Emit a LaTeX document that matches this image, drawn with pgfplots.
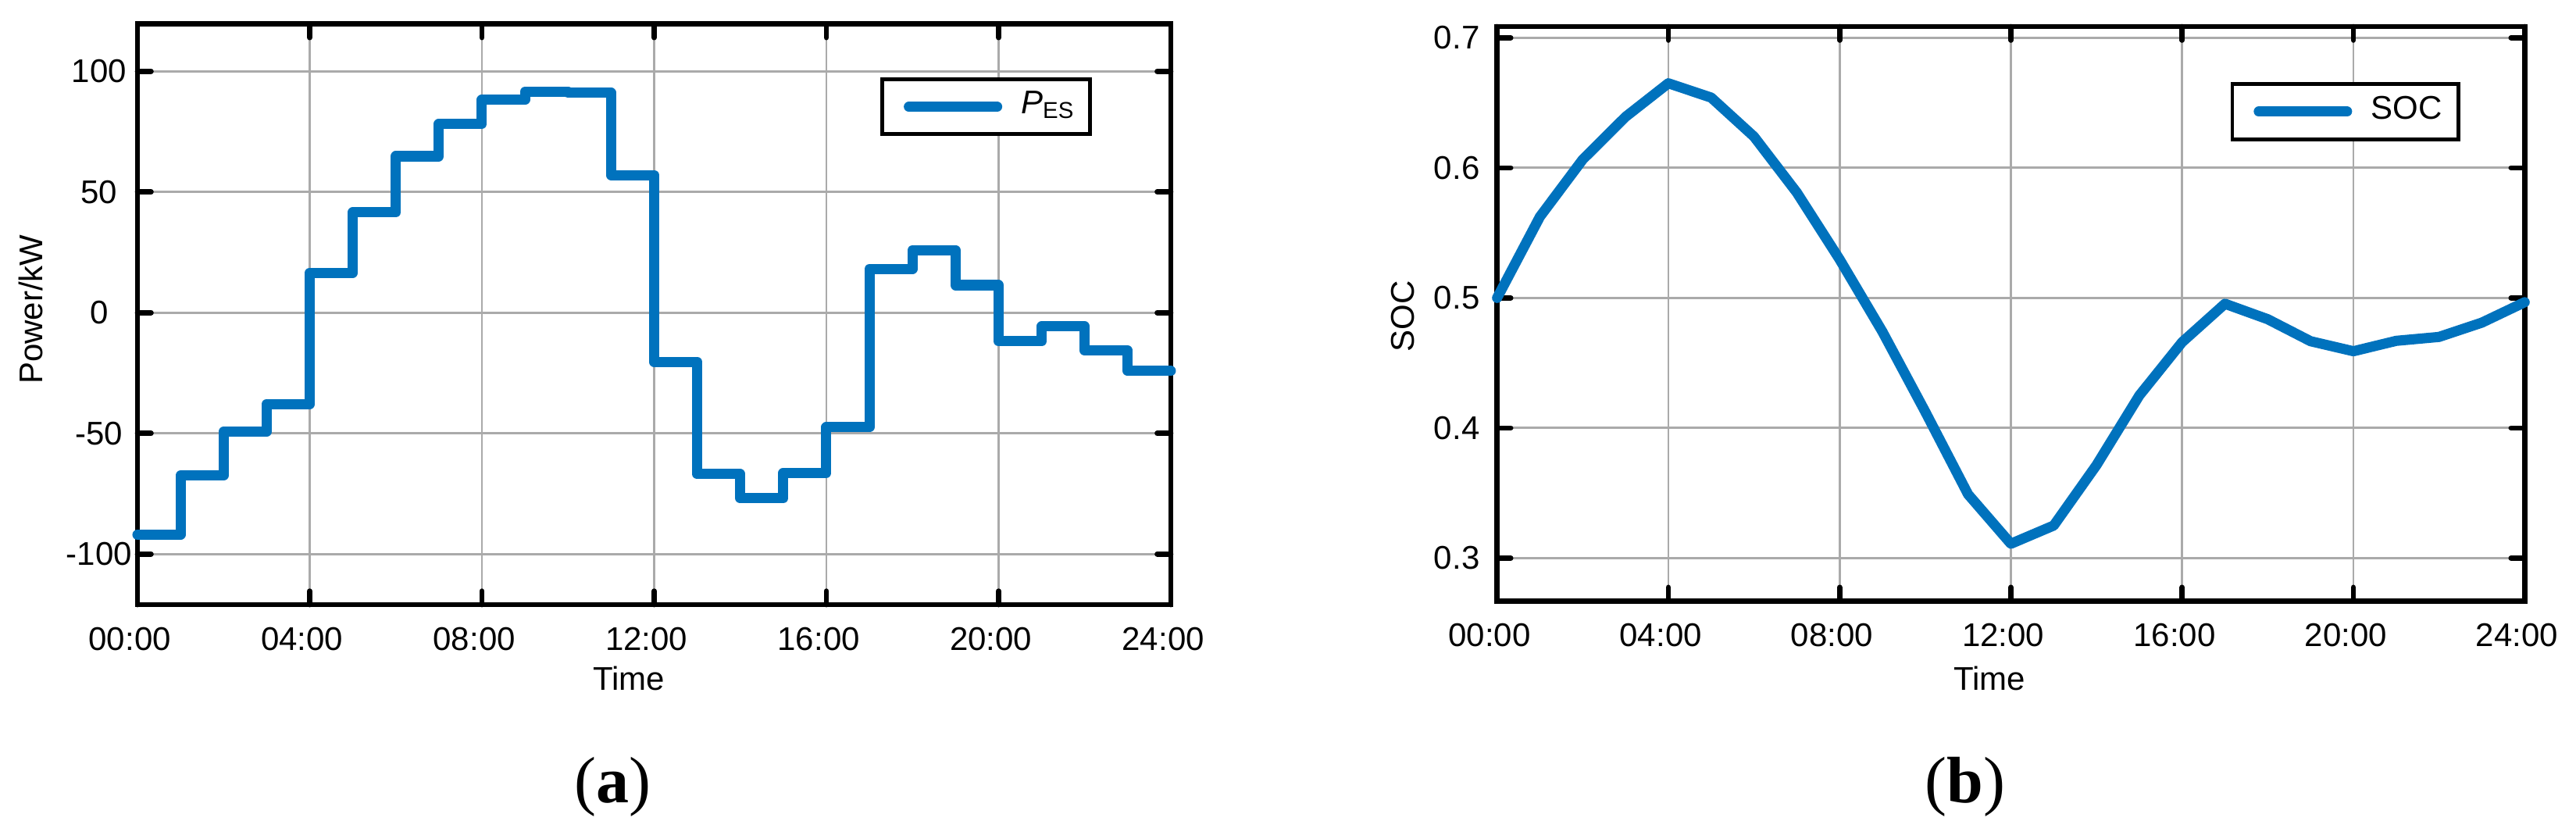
\documentclass[border=0pt]{standalone}
\usepackage{fontspec}
\setmainfont{Liberation Sans}
\newfontfamily\seriffont{Liberation Serif}
\usepackage{pgfplots}
\pgfplotsset{compat=1.18}
\definecolor{mblue}{RGB}{0,114,189}
\definecolor{gridgray}{RGB}{170,170,170}
\pgfplotsset{
 mystyle/.style={
  scale only axis,
  xmin=0, xmax=24,
  xtick={0,4,...,24},
  xticklabels={00:00,04:00,08:00,12:00,16:00,20:00,24:00},
  grid=major,
  major grid style={line width=0.4pt, draw=gridgray},
  axis line style={line width=0.95pt, black},
  tick style={line width=0.95pt, black, line cap=round},
  major tick length=2.5pt,
  tick align=inside,
  xticklabel style={font=\fontsize{6}{7}\selectfont, inner sep=0pt, anchor=north, yshift=-3.9pt, xshift=-1.4pt},
  yticklabel style={font=\fontsize{6}{7}\selectfont, inner sep=0pt, anchor=center},
  label style={font=\fontsize{6}{7}\selectfont, inner sep=0pt},
  xlabel={Time},
  clip=false,
  legend cell align=left,
  legend style={draw=black, line width=0.65pt, inner xsep=3pt, inner ysep=2.2pt, column sep=2.5pt, font=\fontsize{6}{7}\selectfont, nodes={inner sep=0pt}},
  legend image code/.code={\path (0pt,0pt) (18pt,0pt); \draw[#1,line cap=round] (0.93pt,0pt) -- (17.07pt,0pt);},
 }
}
\begin{document}
\begin{tikzpicture}
\path[use as bounding box] (0,0) rectangle (471.14pt,153.29pt);
\begin{axis}[mystyle,
  at={(25.14pt,42.71pt)}, anchor=south west,
  width=189pt, height=106.2pt,
  ymin=-121, ymax=119.6,
  ytick={-100,-50,0,50,100},
  yticklabels={-100,-50,0,50,100},
  yticklabel style={xshift=-7pt},
  ylabel={Power/kW},
  ylabel style={at={(axis description cs:-0.1028,0.5085)}, anchor=center},
  xlabel style={at={(axis description cs:0.4754,-0.1049)}, anchor=north},
  legend style={at={(axis description cs:0.9234,0.9077)}, anchor=north east},
]
\addplot[const plot, color=mblue, line width=1.86pt, line join=round, line cap=round] coordinates {
(0,-92.0) (1,-67.5) (2,-49.3) (3,-37.9) (4,16.5) (5,41.5) (6,64.8) (7,78.2)
(8,88.2) (9,91.5) (10,91.1) (11,57.0) (12,-20.4) (13,-66.9) (14,-76.9) (15,-66.4)
(16,-47.5) (17,18.1) (18,25.9) (19,11.4) (20,-11.9) (21,-5.7) (22,-15.7) (23,-24.2) (24,-24.2)
};
\addlegendentry{\textit{P}\raisebox{-0.8pt}{\fontsize{4.2}{5}\selectfont ES}}
\end{axis}
\begin{axis}[mystyle,
  at={(273.81pt,43.39pt)}, anchor=south west,
  width=187.94pt, height=105.04pt,
  ymin=0.267, ymax=0.7086,
  ytick={0.3,0.4,0.5,0.6,0.7},
  yticklabels={0.3,0.4,0.5,0.6,0.7},
  yticklabel style={xshift=-7.36pt},
  ylabel={SOC},
  ylabel style={at={(axis description cs:-0.0917,0.4954)}, anchor=center},
  xlabel style={at={(axis description cs:0.4791,-0.1125)}, anchor=north},
  legend style={at={(axis description cs:0.9372,0.903)}, anchor=north east},
]
\addplot[color=mblue, line width=1.86pt, line join=round, line cap=round] coordinates {
(0,0.500) (1,0.5624) (2,0.6064) (3,0.6392) (4,0.665) (5,0.654) (6,0.624) (7,0.581)
(8,0.5296) (9,0.474) (10,0.4125) (11,0.349) (12,0.311) (13,0.325) (14,0.3715) (15,0.425)
(16,0.466) (17,0.4955) (18,0.4836) (19,0.4667) (20,0.459) (21,0.467) (22,0.470) (23,0.481) (24,0.4967)
};
\addlegendentry{SOC}
\end{axis}
\node[font=\seriffont\fontsize{12}{14}\selectfont, inner sep=0pt] at (112.0pt,9.43pt) {(\textbf{a})};
\node[font=\seriffont\fontsize{12}{14}\selectfont, inner sep=0pt] at (359.43pt,9.43pt) {(\textbf{b})};
\end{tikzpicture}
\end{document}
